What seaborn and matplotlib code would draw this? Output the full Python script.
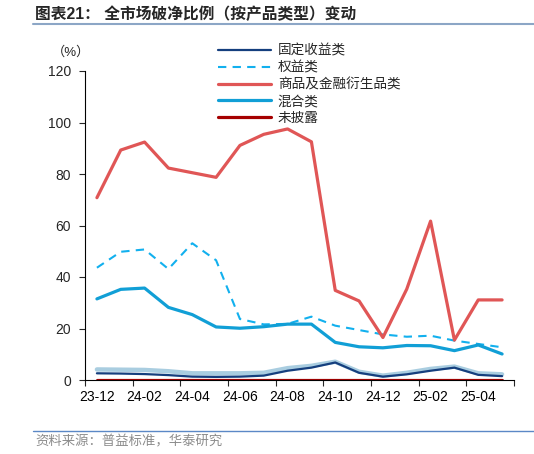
import numpy as np
import pandas as pd
import matplotlib.pyplot as plt
import seaborn as sns
from matplotlib.lines import Line2D

sns.set_style('ticks')
plt.rcParams['font.family'] = ['Liberation Sans', 'Noto Sans CJK SC']
plt.rcParams['axes.unicode_minus'] = False

# 月份
months = ['23-12', '24-01', '24-02', '24-03', '24-04', '24-05', '24-06', '24-07', '24-08',
          '24-09', '24-10', '24-11', '24-12', '25-01', '25-02', '25-03', '25-04', '25-05']

# 破净比例 (%)
fixed_income = [2.6, 2.5, 2.3, 1.9, 1.3, 1.2, 1.3, 1.7, 3.6, 4.8, 6.8, 2.8, 1.3, 2.2, 3.6, 4.8, 2.0, 1.5]
fixed_shadow = [4.1, 4.0, 3.9, 3.4, 2.6, 2.6, 2.6, 2.8, 4.6, 5.5, 7.1, 3.2, 1.7, 2.8, 4.3, 5.2, 2.6, 2.2]
equity = [43.6, 49.8, 50.7, 43.1, 53.1, 46.5, 23.7, 21.6, 21.8, 24.6, 21.1, 19.4, 17.7, 16.8, 17.2, 15.3, 14.0, 12.7]
commodity = [70.8, 89.3, 92.4, 82.3, 80.5, 78.7, 91.1, 95.4, 97.5, 92.5, 34.8, 30.7, 16.5, 35.3, 61.7, 15.5, 31.1, 31.1]
mixed = [31.5, 35.2, 35.7, 28.2, 25.4, 20.6, 20.1, 20.7, 21.7, 21.7, 14.6, 12.9, 12.5, 13.4, 13.3, 11.4, 13.6, 10.1]
undisclosed = [0] * 18

fig = plt.figure(figsize=(5.34, 4.54), dpi=100)
ax = fig.add_axes([85/534, 1-380/454, (514-85)/534, (380-71)/454])

x = np.arange(len(months))
sns.lineplot(x=x, y=fixed_shadow, color='#A9CDE0', lw=3.2, ax=ax, label='_nolegend_')
sns.lineplot(x=x, y=fixed_income, color='#153F7E', lw=1.6, ax=ax, label='固定收益类')
sns.lineplot(x=x, y=equity, color='#12B0EE', lw=1.5, ax=ax, label='权益类', linestyle=(0, (4, 3)))
sns.lineplot(x=x, y=commodity, color='#E05656', lw=2.3, ax=ax, label='商品及金融衍生品类')
sns.lineplot(x=x, y=mixed, color='#119FD6', lw=2.3, ax=ax, label='混合类')
sns.lineplot(x=x, y=undisclosed, color='#A50000', lw=2.3, ax=ax, label='未披露')

ax.set_xlim(-0.5, len(months) - 0.5)
ax.set_ylim(0, 120)
ax.set_yticks([0, 20, 40, 60, 80, 100, 120])
ax.set_xticks(x[::2])
ax.set_xticklabels(months[::2])
ax.set_xticks(np.arange(-0.5, len(months), 2), minor=True)
ax.tick_params(axis='x', which='major', length=0, labelsize=10, pad=7, colors='black')
ax.tick_params(axis='x', which='minor', length=4, width=0.8)
ax.tick_params(axis='y', length=4, width=0.8, labelsize=10, pad=6)
ax.set_xlabel('')
ax.set_ylabel('')
sns.despine(ax=ax)
for s in ['left', 'bottom']:
    ax.spines[s].set_linewidth(0.8)
    ax.spines[s].set_color('black')

ax.text(-0.033, 1.06, '（%）', transform=ax.transAxes, fontsize=9.5, ha='center', va='center')

leg = ax.legend(loc='upper left', bbox_to_anchor=(218/534, 1-44/454), bbox_transform=fig.transFigure,
                frameon=False, fontsize=9.8, handlelength=3.9, handletextpad=0.5,
                labelspacing=0.2, borderpad=0, borderaxespad=0)

fig.text(35/534, 1-14/454, '图表21： 全市场破净比例（按产品类型）变动', fontsize=11.3,
         fontweight='bold', va='center', ha='left')
fig.add_artist(Line2D([33/534, 1], [1-23.5/454, 1-23.5/454], transform=fig.transFigure,
                      color='#8CA6C6', lw=1.5))
fig.add_artist(Line2D([33/534, 1], [1-430.5/454, 1-430.5/454], transform=fig.transFigure,
                      color='#5B88C6', lw=1))
fig.text(35/534, 1-442/454, '资料来源：普益标准，华泰研究', fontsize=9.6, color='#8C8C8C',
         va='center', ha='left')

fig.savefig('out.png', dpi=100)
